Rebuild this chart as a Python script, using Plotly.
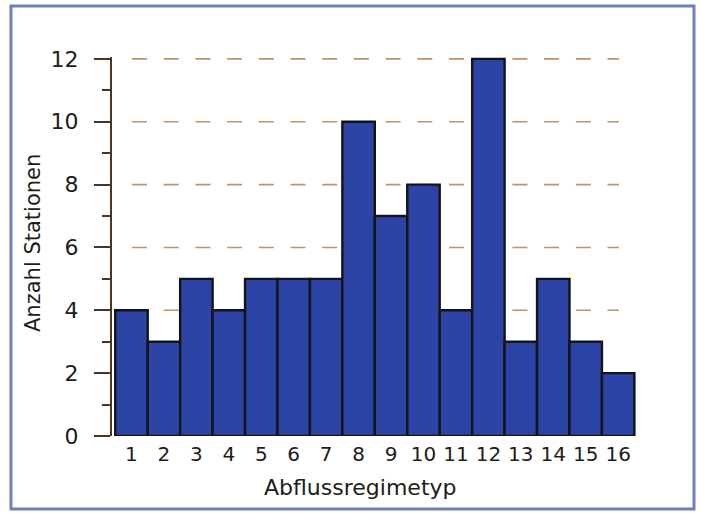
import plotly.graph_objects as go

categories = [str(i) for i in range(1, 17)]
x_positions = list(range(1, 17))
stations = [4, 3, 5, 4, 5, 5, 5, 10, 7, 8, 4, 12, 3, 5, 3, 2]
y_ticks = [0, 2, 4, 6, 8, 10, 12]
grid_values = [2, 4, 6, 8, 10, 12]
x_title = "Abflussregimetyp"
y_title = "Anzahl Stationen"

W, H = 701, 513
L, R, T, B = 112, 65, 57, 77
pw, ph = W - L - R, H - T - B

def px_x(p):
    return (p - L) / pw

def px_y(p):
    return (H - B - p) / ph

fig = go.Figure()
fig.add_trace(go.Bar(
    x=x_positions, y=stations, width=1.0,
    marker=dict(color="#2c44a6", line=dict(color="#141414", width=2.4)),
    hoverinfo="skip",
))

font = "DejaVu Sans, Arial, sans-serif"
txt = "#221c18"
shapes = [dict(
    type="rect", xref="paper", yref="paper",
    x0=px_x(11), x1=px_x(694), y0=px_y(509), y1=px_y(6),
    line=dict(color="#6f80b8", width=3), fillcolor="rgba(0,0,0,0)", layer="below",
)]
for g in grid_values:
    shapes.append(dict(
        type="line", xref="paper", yref="y",
        x0=px_x(132), x1=px_x(619), y0=g, y1=g,
        line=dict(color="#bf9464", width=1.6, dash="15px,16.7px"), layer="below",
    ))

annotations = [
    dict(text=x_title, xref="paper", yref="paper", x=px_x(360), y=px_y(487),
         xanchor="center", yanchor="middle", showarrow=False,
         font=dict(size=22, color=txt, family=font)),
    dict(text=y_title, xref="paper", yref="paper", x=px_x(33), y=px_y(243),
         xanchor="center", yanchor="middle", showarrow=False, textangle=-90,
         font=dict(size=21, color=txt, family=font)),
]

fig.update_layout(
    width=W, height=H,
    margin=dict(l=L, r=R, t=T, b=B),
    paper_bgcolor="white", plot_bgcolor="white",
    showlegend=False,
    font=dict(family=font, size=22, color=txt),
    xaxis=dict(
        range=[0.4, 16.55],
        tickvals=x_positions, ticktext=categories,
        showgrid=False, zeroline=False, showline=False,
        ticks="", ticklabelstandoff=4,
        tickfont=dict(size=20, color=txt),
        fixedrange=True,
    ),
    yaxis=dict(
        range=[0, 12.06],
        tickvals=y_ticks,
        showgrid=False,
        zeroline=False,
        showline=True, linecolor="#4a3424", linewidth=2,
        ticks="outside", ticklen=16, tickwidth=2, tickcolor="#4a3424",
        minor=dict(dtick=1, ticks="outside", ticklen=8, tickwidth=2, tickcolor="#4a3424", showgrid=False),
        ticklabelstandoff=11,
        tickfont=dict(size=22, color=txt),
        fixedrange=True,
    ),
    shapes=shapes,
    annotations=annotations,
)

fig.write_html("out.html", config={"displayModeBar": False},
               post_script="document.body.style.margin='0';document.body.style.padding='0';")
